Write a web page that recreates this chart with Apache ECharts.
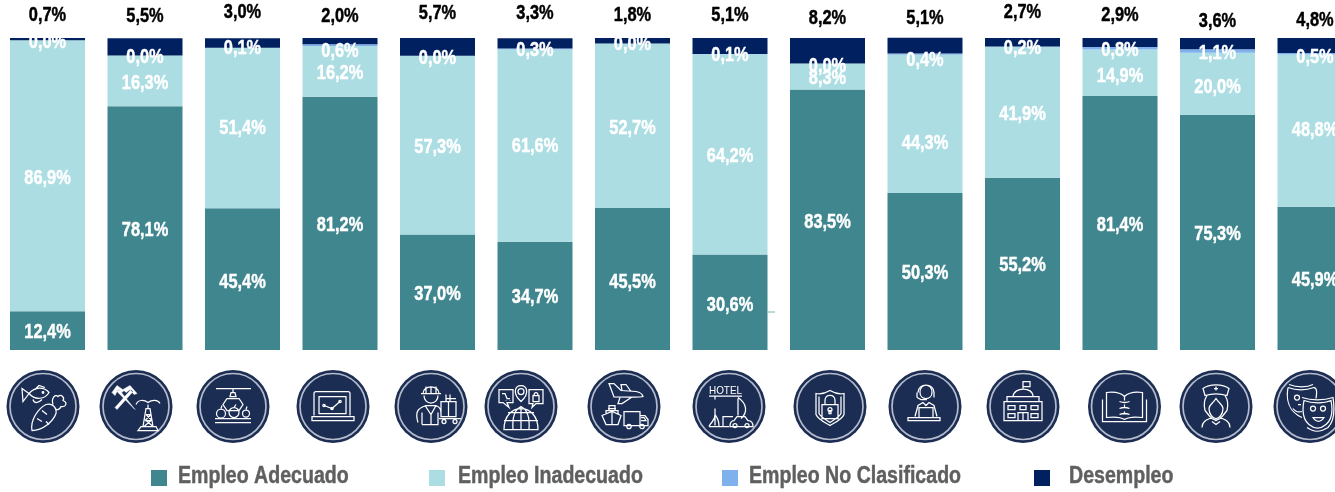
<!DOCTYPE html>
<html><head><meta charset="utf-8">
<style>html,body{margin:0;padding:0;background:#fff}#c{width:1335px;height:492px}</style>
<script src="https://cdn.jsdelivr.net/npm/echarts@6/dist/echarts.min.js"></script>
</head><body><div id="c"></div>
<script>
const categories = ['Agricultura y pesca','Minas y petróleo','Manufactura','Tecnología','Construcción','Comercio','Transporte','Alojamiento','Seguridad','Servicios','Administración pública','Enseñanza','Salud','Artes'];
const empleoAdecuado = [12.4,78.1,45.4,81.2,37.0,34.7,45.5,30.6,83.5,50.3,55.2,81.4,75.3,45.9];
const empleoInadecuado = [86.9,16.3,51.4,16.2,57.3,61.6,52.7,64.2,8.3,44.3,41.9,14.9,20.0,48.8];
const empleoNoClasificado = [0.0,0.0,0.1,0.6,0.0,0.3,0.0,0.1,0.0,0.4,0.2,0.8,1.1,0.5];
const desempleo = [0.7,5.5,3.0,2.0,5.7,3.3,1.8,5.1,8.2,5.1,2.7,2.9,3.6,4.8];
const legendNames = ['Empleo Adecuado','Empleo Inadecuado','Empleo No Clasificado','Desempleo'];

// label placement (page pixels), separate from the data
const yTop = [14,15,11,15,12,12,14,14,17,17,11,14,20,19];
const yNoClas = [41,56,47,50,57,49,43,54,65,59,47,49,52,56];
const yInad = [177,82,127,72,146,145,127,155,77,142,113,75,86,129];
const yAdec = [331,229,281,224,293,296,281,304,221,272,264,224,233,279];
const iconX = [43,136,233,333,431,521,624,729,830,925,1023,1124.5,1216,1310];
const iconY = 406.5;
const legendMarkX = [151,429,722,1034];
const legendTextX = [178,458,749,1069];

const FONT = '"Liberation Sans",Arial,sans-serif', SQUEEZE = 0.84, NUDGE = 1.5;
const fmt = v => v.toFixed(1).replace('.', ',') + '%';

function c(x,y,r){return `M${x-r},${y}a${r},${r} 0 1,0 ${2*r},0a${r},${r} 0 1,0 ${-2*r},0Z`;}
const icons = [
 'M-14,-13C-8,-20 1,-20 6,-14C2,-7 -8,-6 -14,-13ZM-14,-13L-21,-18L-20,-5ZM-10,-7C-9,-3 -5,-3 -1,-7M-8,-17L-4,-21L2,-19M-11,24C-13,14 -5,2 3,-2C9,-4 14,1 13,7C10,15 0,24 -11,24ZM10,-2C8,-8 12,-13 15,-10C18,-13 22,-9 20,-6C25,-4 23,1 18,0C17,3 14,4 12,2M-6,12L-1,15M-1,4L4,8M3,15L6,18'+c(0,-14,.8),
 'M2,24L22,24L20,20L5,20ZM7,20L10,2L14,2L17,20M9,14L16,14M10,8L15,8M9,14L15,8M10,8L16,14M8,20L15,14M17,20L10,14M12,2L12,-2M0,-2C2,-7 8,-7 12,-4C16,-7 22,-7 24,-3',
 'M-17,-18L18,-18M0,-18L0,-14M-3,-10L3,-10L2,-14L-2,-14ZM-6,-8L6,-8L10,-2L6,4L-6,4L-10,-2ZM-18,16L18,16M-18,12L18,12'+c(-12,7,4.5)+c(1,6,5)+c(13,7,3.5)+'M-12,2L-11,-1M1,1L3,-2M13,3L14,0',
 'M-19,9L-19,-13Q-19,-15 -17,-15L15,-15Q17,-15 17,-13L17,9M-14,7L-14,-10L13,-10L13,7ZM-21,10L21,10L21,14L-21,14ZM-9,-1L-1,2L7,-5'+c(-9,-1,1.2)+c(-1,2,1.2)+c(7,-5,1.2),
 'M-8,-13C-8,-22 8,-22 8,-13L-8,-13ZM-10,-13L10,-13M0,-20L0,-13M-5,-20L-5,-13M5,-20L5,-13M-7,-11C-7,-1 7,-1 7,-11M-13,16C-16,6 -14,2 -5,-1L5,-1C10,1 10,4 10,8M-6,-1L0,8L5,-1M-9,18L-9,6M-9,18L7,18L7,6M0,8L0,18M10,-5L10,10L25,10L25,-5ZM15,-12L15,-5M19,-12L19,-5M15,-8L25,-8M17.5,-5L17.5,10M8,12L30,12'+c(13,15,2)+c(24,15,2),
 'M-17,23C-17,-5 17,-5 17,23ZM-8,23C-9,10 -6,3 0,0C6,3 9,10 8,23M0,0L0,23M-17,14L17,14M-13,6L13,6M-22,-17L-8,-17L-8,-4L-14,-4L-12,1L-18,-4L-22,-4ZM8,-17L22,-17L22,-3L15,-3L11,1L12,-3L8,-3ZM-19,-13L-16,-13L-14,-8L-11,-8M-15,-6L-15,-6.5M-11,-6L-11,-6.5M12,-11L18,-11L18,-5L12,-5ZM13,-11C13,-15 17,-15 17,-11M0,-5C-9,-13 -6,-21 0,-21C6,-21 9,-13 0,-5Z'+c(0,-15,3),
 'M-15,-23L-10,-23L-3,-16L12,-15Q18,-14 19,-10Q18,-9 -10,-9.5ZM-2,-16L-3,-22L2,-22L7,-15M-4,-9L-6,-3L-2,-3L8,-9.5M-22,9L-18,18L-6,18L-3,9L-12,5ZM-18,8L-18,4L-6,4L-6,8M-15,4L-15,-1L-9,-1L-9,4M-12,5L-12,18M-16,2L-8,2M0,5L16,5L16,19L0,19ZM16,9L21,9L24,13L24,19L16,19M17,11L20,11L22,14L17,14'+c(5,20,2.2)+c(18,20,2.2),
 'M-20,-10.5L13,-10.5M-14,-10L-14,-7M-14,2L-14,19M-20,20L0,20M-20,20C-18,15 -14,15 -14,8M-10,20C-10,12 -13,10 -14,8M-6,20L-6,10L4,10M9,-9C18,-3 19,6 12,12M1,20Q1,14 5,14L8,10L16,10L19,14Q24,14 24,20ZM9,-8L9,9'+c(6,19,2)+c(18,19,2),
 'M0,-16C-5,-13 -9,-12 -14,-13L-14,8C-12,13 -5,16 0,19C5,16 12,13 14,8L14,-13C9,-12 5,-13 0,-16ZM-11,-10L-11,7C-9,11 -4,13 0,16C4,13 9,11 11,7L11,-10M-8,-2L8,-2L8,12L-8,12ZM-5,-2L-5,-6C-5,-13 5,-13 5,-6L5,-2M-1,7L1,7L1,4L-1,4Z'+c(0,3,2),
 'M-5,-14C-5,-24 7,-24 7,-14C7,-6 -5,-6 -5,-14ZM-7,-14C-7,-24 9,-24 9,-14M-8,-14L-8,-9M9,-14L9,-9M-8,-9L-4,-7L2,-7M-10,10L-7,-1L-2,-4L1,-1L4,-4L9,-1L12,10M-6,11L-6,1L8,1L8,11M-17,11L15,11L15,14L-17,14Z',
 'M-19,-5L19,-5L19,14L-19,14ZM-16,-10L16,-10L16,-5L-16,-5ZM-10,-10C-9,-20 10,-20 10,-10M0,-17L0,-20M0,-25L7,-25L7,-20L0,-20ZM0,-25L0,-20M-15,-1L-8,-1L-8,3L-15,3ZM-15,7L-8,7L-8,11L-15,11ZM8,-1L15,-1L15,3L8,3ZM8,7L15,7L15,11L8,11ZM-3,-1L3,-1L3,3L-3,3ZM-5,14L-5,6L5,6L5,14M0,6L0,14',
 'M-22,-7L-22,15L22,15L22,-7M-18,-14C-10,-15 -3,-13 0,-10C3,-13 10,-15 18,-14L18,11C10,10 3,11 0,13C-3,11 -10,10 -18,11ZM0,-10L0,-6M0,-2L0,1M0,5L0,8M-5,-5Q0,-3 5,-5M-5,2Q0,0 5,2M-5,8Q0,6 5,8',
 'M-13,-18C-7,-23 7,-23 13,-18L11,-11C4,-13 -4,-13 -11,-11ZM-2,-18L2,-18M0,-20L0,-16M-9,-11C-13,-5 -12,0 -11,4L-7,9C-4,13 -1,13 0,14C1,13 4,13 7,9L11,4C12,0 13,-5 9,-11M0,-8C-3,-3 -7,-2 -7,2C-7,8 -3,12 0,12C3,12 7,8 7,2C7,-2 3,-3 0,-8ZM-14,21C-14,14 -8,13 -4,11M14,21C14,14 8,13 4,11M-4,15L0,18L4,15',
 'M-22,-19C-14,-16 -4,-16 4,-19C7,-19 7,-14 6,-8M-22,-19C-24,-8 -22,5 -8,11M-21,-22C-13,-19 -3,-19 3,-22M-12,-2L-9,-2M-17,2C-15,5 -12,6 -8,5M-6,-6C2,-3 14,-3 21,-6C23,4 22,13 16,18C10,23 5,23 -1,18C-7,13 -8,4 -6,-6ZM-8,-9C1,-6 14,-6 23,-9C25,4 24,15 18,21C10,26 4,26 -3,21M3,11C6,16 11,16 14,11Z'+c(3,2,2.5)+c(13,2,2.5)+c(-13,-9,2.5)
];
// solid parts of icons (crossed hammers)
const iconSolid = {1:'M-21,1L-19,3L-3,-15L-5,-17ZM-3,1L-1,3L-17,-17L-19,-15ZM-24,-14L-19,-21L-12,-16L-14,-14L-18,-17L-21,-11ZM-13,-17L-6,-21L1,-13L-2,-12L-6,-17L-10,-14Z'};

const barSeries = (name, data, color) => ({
  name, type:'bar', stack:'total', barWidth:75, silent:true, clip:false,
  itemStyle:{color}, data
});

const text = (x,y,str,fill) => ({type:'text', x, y:y+NUDGE, scaleX:SQUEEZE,
  style:{text:str, x:0, y:0, align:'center', verticalAlign:'middle', fill, stroke:fill, lineWidth:.45, font:'bold 19.5px '+FONT}});

const labelSeries = {
  type:'custom', coordinateSystem:'cartesian2d', silent:true, clip:false, z:6,
  data: categories.map((n,i)=>[i,0]),
  renderItem:(params,api)=>{
    const i = params.dataIndex, x = api.coord([i,0])[0];
    return {type:'group', children:[
      text(x,yAdec[i],fmt(empleoAdecuado[i]),'#fff'),
      text(x,yInad[i],fmt(empleoInadecuado[i]),'#fff'),
      text(x,yNoClas[i],fmt(empleoNoClasificado[i]),'#fff'),
      text(x,yTop[i],fmt(desempleo[i]),'#000')
    ]};
  }
};

const iconSeries = {
  type:'custom', coordinateSystem:'none', silent:true, clip:false, z:5,
  data: iconX.map((x,i)=>[i]),
  renderItem:(params)=>{
    const i = params.dataIndex;
    const children = [
      {type:'circle', shape:{cx:0,cy:0,r:36.5}, style:{fill:'#1C2D54',stroke:null}},
      {type:'circle', shape:{cx:0,cy:0,r:33}, style:{fill:'none',stroke:'#B4BBCB',lineWidth:1.7}},
      {type:'path', shape:{pathData:icons[i]}, style:{fill:'none',stroke:'#fff',lineWidth:1.25}}
    ];
    if(iconSolid[i]) children.push({type:'path', shape:{pathData:iconSolid[i]}, style:{fill:'#fff',stroke:'#fff',lineWidth:.5}});
    if(i===7) children.push({type:'text', x:-20, y:-15.5, scaleX:.9, style:{text:'HOTEL', x:0, y:0, verticalAlign:'middle', fill:'#fff', font:'11px '+FONT}});
    return {type:'group', x:iconX[i], y:iconY, children};
  }
};

const legendItem = (name,left) => ({
  data:[name], left, top:470, icon:'rect', itemWidth:16, itemHeight:16, selectedMode:false,
  formatter:()=>'', padding:0
});

const chart = echarts.init(document.getElementById('c'), null, {renderer:'canvas'});
chart.setOption({
  animation:false, backgroundColor:'#fff',
  grid:{left:47.5, right:20, top:38, height:312},
  xAxis:{type:'category', data:categories, show:false, boundaryGap:false},
  yAxis:{type:'value', min:0, max:100, show:false},
  legend:legendNames.map((n,i)=>legendItem(n,legendMarkX[i])),
  tooltip:{show:false},
  graphic:[
    {type:'line', shape:{x1:768,y1:312,x2:775,y2:312}, style:{stroke:'#7FB0B5',lineWidth:1}},
    ...legendNames.map((n,i)=>({type:'text', x:legendTextX[i], y:477, scaleX:SQUEEZE,
      style:{text:n, x:0, y:0, align:'left', verticalAlign:'middle', fill:'#5F5F5F', stroke:'#5F5F5F', lineWidth:.45, font:'bold 23.3px '+FONT}}))
  ],
  series:[
    barSeries(legendNames[0], empleoAdecuado, '#40868F'),
    barSeries(legendNames[1], empleoInadecuado, '#ACDDE3'),
    barSeries(legendNames[2], empleoNoClasificado, '#7FB2EC'),
    barSeries(legendNames[3], desempleo, '#002060'),
    labelSeries, iconSeries
  ]
});
</script></body></html>
